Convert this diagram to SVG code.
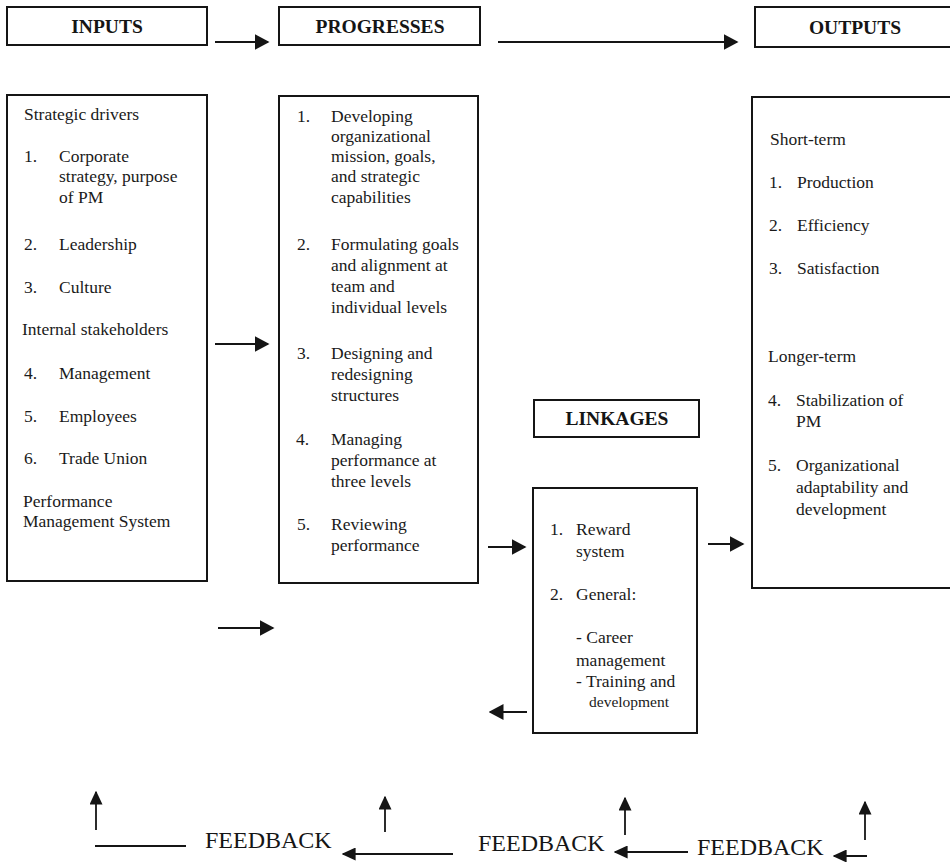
<svg xmlns="http://www.w3.org/2000/svg" width="950" height="862" viewBox="0 0 950 862">
<defs>
<style>
.box{fill:none;stroke:#151515;stroke-width:2}
.hd{font-family:"Liberation Serif","Times New Roman",serif;font-weight:bold;font-size:19.5px;fill:#151515;text-anchor:middle}
.t{font-family:"Liberation Serif","Times New Roman",serif;font-size:17.5px;fill:#1a1a1a}
.sm{font-size:15.5px}
.fb{font-family:"Liberation Serif","Times New Roman",serif;font-size:24px;fill:#151515}
.c{fill:none;stroke:#151515;stroke-width:2}
.cf{fill:none;stroke:#151515;stroke-width:1.8}
</style>
<marker id="ah" viewBox="0 0 10 10" refX="9" refY="5" markerWidth="15" markerHeight="16" markerUnits="userSpaceOnUse" orient="auto" preserveAspectRatio="none"><path d="M0,0 L10,5 L0,10 z" fill="#151515"/></marker>
<marker id="fh" viewBox="0 0 10 10" refX="9" refY="5" markerWidth="14" markerHeight="13" markerUnits="userSpaceOnUse" orient="auto" preserveAspectRatio="none"><path d="M0,0 L10,5 L0,10 z" fill="#151515"/></marker>
</defs>
<rect width="950" height="862" fill="#ffffff"/>

<g id="inputs-header">
<rect class="box" x="7" y="7" width="200" height="38"/>
<text class="hd" x="107" y="33">INPUTS</text>
</g>
<g id="progresses-header">
<rect class="box" x="279" y="7" width="201" height="38"/>
<text class="hd" x="380" y="33">PROGRESSES</text>
</g>
<g id="outputs-header">
<rect class="box" x="755" y="7" width="210" height="40"/>
<text class="hd" x="855" y="34">OUTPUTS</text>
</g>

<g id="inputs">
<rect class="box" x="7" y="95" width="200" height="486"/>
<text class="t" x="24" y="120">Strategic drivers</text>
<text class="t" x="24" y="162">1.</text>
<text class="t" x="59" y="162">Corporate</text>
<text class="t" x="59" y="182">strategy, purpose</text>
<text class="t" x="59" y="203">of PM</text>
<text class="t" x="24" y="250">2.</text>
<text class="t" x="59" y="250">Leadership</text>
<text class="t" x="24" y="293">3.</text>
<text class="t" x="59" y="293">Culture</text>
<text class="t" x="22" y="335">Internal stakeholders</text>
<text class="t" x="24" y="379">4.</text>
<text class="t" x="59" y="379">Management</text>
<text class="t" x="24" y="422">5.</text>
<text class="t" x="59" y="422">Employees</text>
<text class="t" x="24" y="464">6.</text>
<text class="t" x="59" y="464">Trade Union</text>
<text class="t" x="23" y="507">Performance</text>
<text class="t" x="23" y="527">Management System</text>
</g>

<g id="progresses">
<rect class="box" x="279" y="96" width="199" height="487"/>
<text class="t" x="297" y="122">1.</text>
<text class="t" x="331" y="122">Developing</text>
<text class="t" x="331" y="142">organizational</text>
<text class="t" x="331" y="162">mission, goals,</text>
<text class="t" x="331" y="182">and strategic</text>
<text class="t" x="331" y="203">capabilities</text>
<text class="t" x="297" y="250">2.</text>
<text class="t" x="331" y="250">Formulating goals</text>
<text class="t" x="331" y="271">and alignment at</text>
<text class="t" x="331" y="292">team and</text>
<text class="t" x="331" y="313">individual levels</text>
<text class="t" x="297" y="359">3.</text>
<text class="t" x="331" y="359">Designing and</text>
<text class="t" x="331" y="380">redesigning</text>
<text class="t" x="331" y="401">structures</text>
<text class="t" x="296" y="445">4.</text>
<text class="t" x="331" y="445">Managing</text>
<text class="t" x="331" y="466">performance at</text>
<text class="t" x="331" y="487">three levels</text>
<text class="t" x="297" y="530">5.</text>
<text class="t" x="331" y="530">Reviewing</text>
<text class="t" x="331" y="551">performance</text>
</g>

<g id="outputs">
<rect class="box" x="752" y="97" width="210" height="491"/>
<text class="t" x="770" y="145">Short-term</text>
<text class="t" x="769" y="188">1.</text>
<text class="t" x="797" y="188">Production</text>
<text class="t" x="769" y="231">2.</text>
<text class="t" x="797" y="231">Efficiency</text>
<text class="t" x="769" y="274">3.</text>
<text class="t" x="797" y="274">Satisfaction</text>
<text class="t" x="768" y="362">Longer-term</text>
<text class="t" x="768" y="406">4.</text>
<text class="t" x="796" y="406">Stabilization of</text>
<text class="t" x="796" y="427">PM</text>
<text class="t" x="768" y="471">5.</text>
<text class="t" x="796" y="471">Organizational</text>
<text class="t" x="796" y="493">adaptability and</text>
<text class="t" x="796" y="515">development</text>
</g>

<g id="linkages-header">
<rect class="box" x="534" y="400" width="165" height="37"/>
<text class="hd" x="617" y="425">LINKAGES</text>
</g>

<g id="linkages">
<rect class="box" x="533" y="488" width="164" height="245"/>
<text class="t" x="550" y="535">1.</text>
<text class="t" x="576" y="535">Reward</text>
<text class="t" x="576" y="557">system</text>
<text class="t" x="550" y="600">2.</text>
<text class="t" x="576" y="600">General:</text>
<text class="t" x="576" y="643">- Career</text>
<text class="t" x="576" y="666">management</text>
<text class="t" x="576" y="687">- Training and</text>
<text class="t sm" x="589" y="707">development</text>
</g>

<g id="feedback-labels">
<text class="fb" x="205" y="848">FEEDBACK</text>
<text class="fb" x="478" y="851">FEEDBACK</text>
<text class="fb" x="697" y="855">FEEDBACK</text>
</g>

<g id="connectors">
<line class="c" x1="215" y1="42" x2="268" y2="42" marker-end="url(#ah)"/>
<line class="c" x1="498" y1="42" x2="737" y2="42" marker-end="url(#ah)"/>
<line class="c" x1="215" y1="344" x2="268" y2="344" marker-end="url(#ah)"/>
<line class="c" x1="218" y1="628" x2="273" y2="628" marker-end="url(#ah)"/>
<line class="c" x1="488" y1="547" x2="525" y2="547" marker-end="url(#ah)"/>
<line class="c" x1="708" y1="544" x2="743" y2="544" marker-end="url(#ah)"/>
<line class="c" x1="527" y1="712" x2="490" y2="712" marker-end="url(#ah)"/>

<line class="cf" x1="96" y1="830" x2="96" y2="792" marker-end="url(#fh)"/>
<line class="cf" x1="95" y1="846" x2="186" y2="846"/>
<line class="cf" x1="453" y1="854" x2="343" y2="854" marker-end="url(#fh)"/>
<line class="cf" x1="385" y1="832" x2="385" y2="797" marker-end="url(#fh)"/>
<line class="cf" x1="688" y1="852" x2="615" y2="852" marker-end="url(#fh)"/>
<line class="cf" x1="625" y1="835" x2="625" y2="798" marker-end="url(#fh)"/>
<line class="cf" x1="867" y1="856" x2="834" y2="856" marker-end="url(#fh)"/>
<line class="cf" x1="865" y1="840" x2="865" y2="802" marker-end="url(#fh)"/>
</g>
</svg>
